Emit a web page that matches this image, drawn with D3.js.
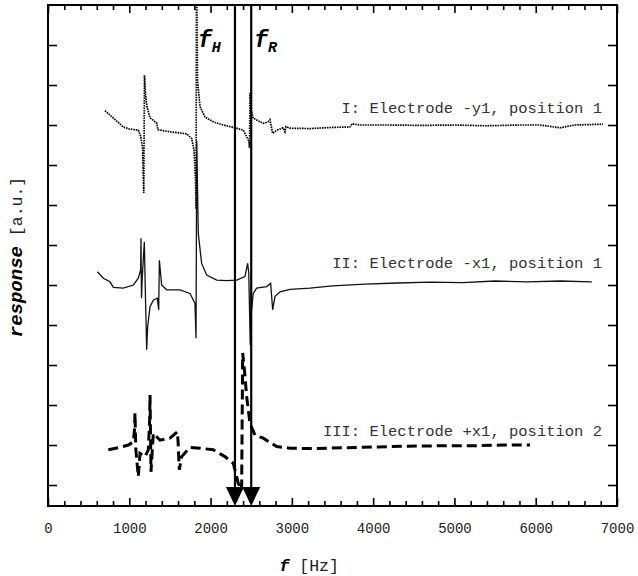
<!DOCTYPE html>
<html>
<head>
<meta charset="utf-8">
<script src="https://cdn.jsdelivr.net/npm/d3@7"></script>
<style>
  body { margin: 0; background: #fff; }
  text { font-family: "Liberation Mono", "DejaVu Sans Mono", monospace; }
</style>
</head>
<body>
<div id="chart"></div>
<script>
// response spectra - three electrodes, frequency in Hz, response in arbitrary units
// curve I dotted, II solid, III dashed; fH / fR marked with arrows

const freqI = [700, 800, 926, 1000, 1111, 1140, 1165, 1178, 1187, 1200, 1218, 1255, 1337, 1353, 1501, 1706, 1768, 1796, 1815, 1821, 1827, 1839, 1870, 1931, 2033, 2157, 2300, 2402, 2444, 2470, 2479, 2485, 2497, 2525, 2648, 2706, 2731, 2764, 2813, 2854, 2891, 2915, 2928, 2977, 3223, 3500, 3715, 3740, 3838, 4200, 4600, 5000, 5400, 5800, 6052, 6298, 6483, 6827];
const respI = [9.36, 9.18, 8.95, 8.9, 8.87, 8.72, 8.4, 7.3, 10.25, 9.75, 9.45, 9.18, 9.05, 8.88, 8.83, 8.78, 8.66, 8.38, 7.6, 6.9, 13, 10.1, 9.46, 9.2, 9.08, 9.0, 8.93, 8.87, 8.71, 8.6, 8.43, 9.8, 9.38, 9.17, 9.04, 9.08, 9.13, 8.79, 8.87, 8.9, 8.93, 8.83, 8.96, 8.92, 8.91, 8.94, 8.95, 9.03, 9.0, 9.0, 8.99, 9.0, 8.98, 9.0, 9.0, 8.93, 9.0, 9.02];

const freqII = [607, 681, 763, 804, 926, 1050, 1111, 1140, 1144, 1150, 1160, 1185, 1200, 1214, 1226, 1255, 1296, 1345, 1362, 1370, 1398, 1460, 1624, 1747, 1808, 1821, 1830, 1849, 1890, 1952, 2075, 2198, 2321, 2423, 2456, 2470, 2488, 2500, 2525, 2567, 2690, 2739, 2764, 2792, 2854, 2977, 3223, 3500, 3900, 4300, 4700, 5100, 5500, 5900, 6300, 6690];
const respII = [5.33, 5.17, 5.08, 4.94, 4.92, 5.0, 5.17, 5.38, 6.17, 4.67, 5.2, 6.08, 4.62, 3.38, 3.96, 4.46, 4.62, 4.67, 4.38, 5.62, 5.0, 4.88, 4.88, 4.79, 4.54, 3.67, 8.6, 6.29, 5.54, 5.25, 5.12, 5.11, 5.12, 5.21, 5.54, 5.3, 3.5, 4.3, 4.79, 4.92, 4.96, 5.04, 4.38, 4.71, 4.83, 4.89, 4.92, 4.98, 5.02, 5.05, 5.07, 5.06, 5.1, 5.08, 5.1, 5.08];

const freqIII = [742, 886, 988, 1050, 1065, 1070, 1080, 1111, 1132, 1193, 1234, 1250, 1255, 1267, 1296, 1378, 1501, 1591, 1600, 1615, 1645, 1747, 1870, 2033, 2177, 2280, 2341, 2382, 2395, 2420, 2444, 2485, 2546, 2648, 2813, 2977, 3223, 3600, 4000, 4400, 4800, 5200, 5600, 5930];
const respIII = [0.88, 0.94, 1.0, 1.08, 1.4, 1.8, 0.9, 0.21, 0.79, 0.71, 0.88, 1.6, 2.25, 0.33, 1.29, 1.12, 1.17, 1.33, 1.1, 0.38, 0.71, 0.94, 0.92, 0.88, 0.71, 0.54, 0.04, -0.12, 3.3, 2.8, 2.21, 1.54, 1.25, 1.17, 0.96, 0.92, 0.91, 0.93, 0.95, 0.97, 0.98, 0.98, 1.0, 1.0];

const curveLabels = ["I: Electrode -y1, position 1", "II: Electrode -x1, position 1", "III: Electrode +x1, position 2"];
const labelLevels = [9.3, 5.42, 1.22];

const markFreqs = [2300, 2500];
const markNames = ["H", "R"];

const xMajorTicks = [0, 1000, 2000, 3000, 4000, 5000, 6000, 7000];
const xMinorTicks = d3.range(200, 7000, 200).filter(v => v % 1000 !== 0);
const yTicks = [0, 1, 2, 3, 4, 5, 6, 7, 8, 9, 10, 11];

const svgWidth = 638;
const svgHeight = 576;
const margin = { top: 5, right: 21, bottom: 70, left: 48 };
const width = svgWidth - margin.left - margin.right;
const height = svgHeight - margin.top - margin.bottom;

const svg = d3.select("#chart")
    .append("svg")
    .attr("width", svgWidth)
    .attr("height", svgHeight);

const chart = svg.append("g")
    .attr("transform", `translate(${margin.left},${margin.top})`);

const scaleX = d3.scaleLinear().domain([0, 7000]).range([0, width]);
const scaleY = d3.scaleLinear().domain([-0.525, 12]).range([height, 0]);

chart.append("clipPath")
    .attr("id", "plotclip")
    .append("rect")
    .attr("width", width)
    .attr("height", height);

// axes: ticks point inward, labels only on the bottom
function tickAxis(axis, size) {
    return g => {
        g.call(axis.tickSize(size).tickSizeOuter(0));
        g.select(".domain").remove();
        g.selectAll("line").attr("stroke", "#000").attr("stroke-width", 1.6);
    };
}

const bottom = chart.append("g").attr("transform", `translate(0,${height})`);
bottom.call(tickAxis(d3.axisBottom(scaleX).tickValues(xMajorTicks).tickFormat(d3.format("d")).tickPadding(17), -8));
bottom.selectAll("text")
    .attr("font-family", "Liberation Mono, monospace")
    .attr("font-size", "14px")
    .attr("fill", "#222");
chart.append("g").attr("transform", `translate(0,${height})`)
    .call(tickAxis(d3.axisBottom(scaleX).tickValues(xMinorTicks).tickFormat(""), -5));

chart.append("g")
    .call(tickAxis(d3.axisTop(scaleX).tickValues(xMajorTicks).tickFormat(""), -8));
chart.append("g")
    .call(tickAxis(d3.axisTop(scaleX).tickValues(xMinorTicks).tickFormat(""), -5));

chart.append("g")
    .call(tickAxis(d3.axisLeft(scaleY).tickValues(yTicks).tickFormat(""), -9));
chart.append("g").attr("transform", `translate(${width},0)`)
    .call(tickAxis(d3.axisRight(scaleY).tickValues(yTicks).tickFormat(""), -9));

chart.append("rect")
    .attr("width", width)
    .attr("height", height)
    .attr("fill", "none")
    .attr("stroke", "#000")
    .attr("stroke-width", 2);

// curves
const line = d3.line()
    .x(d => scaleX(d[0]))
    .y(d => scaleY(d[1]));

const plot = chart.append("g").attr("clip-path", "url(#plotclip)");

plot.append("path")
    .datum(d3.zip(freqI, respI))
    .attr("d", line)
    .attr("fill", "none")
    .attr("stroke", "#000")
    .attr("stroke-width", 1.7)
    .attr("stroke-dasharray", "1.6 0.9");

plot.append("path")
    .datum(d3.zip(freqII, respII))
    .attr("d", line)
    .attr("fill", "none")
    .attr("stroke", "#111")
    .attr("stroke-width", 1.3);

plot.append("path")
    .datum(d3.zip(freqIII, respIII))
    .attr("d", line)
    .attr("fill", "none")
    .attr("stroke", "#000")
    .attr("stroke-width", 3)
    .attr("stroke-dasharray", "10 5");

// fH and fR markers
markFreqs.forEach(function(f, i) {
    const px = scaleX(f);
    chart.append("line")
        .attr("x1", px).attr("x2", px)
        .attr("y1", 0).attr("y2", height - 16)
        .attr("stroke", "#000")
        .attr("stroke-width", 2.2);
    chart.append("path")
        .attr("d", `M${px - 9},${height - 19}L${px + 9},${height - 19}L${px},${height}Z`)
        .attr("fill", "#000");
    const t = chart.append("text")
        .attr("x", px + (i === 0 ? -37 : 3))
        .attr("y", 42)
        .attr("font-weight", "bold")
        .attr("font-style", "italic")
        .attr("font-size", "23px");
    t.append("tspan").text("f");
    t.append("tspan")
        .attr("dy", 5)
        .attr("font-size", "15px")
        .text(markNames[i]);
});

// curve labels
curveLabels.forEach(function(s, i) {
    chart.append("text")
        .attr("x", width - 15)
        .attr("y", scaleY(labelLevels[i]))
        .attr("text-anchor", "end")
        .attr("font-size", "15.5px")
        .attr("fill", "#333")
        .text(s);
});

// axis titles
const xt = svg.append("text")
    .attr("x", 309)
    .attr("y", 571)
    .attr("text-anchor", "middle");
xt.append("tspan")
    .attr("font-weight", "bold")
    .attr("font-style", "italic")
    .attr("font-size", "17px")
    .text("f");
xt.append("tspan")
    .attr("font-size", "16.5px")
    .attr("fill", "#222")
    .text("  [Hz]");

const yt = svg.append("text")
    .attr("transform", "translate(22,257) rotate(-90)")
    .attr("text-anchor", "middle");
yt.append("tspan")
    .attr("font-weight", "bold")
    .attr("font-style", "italic")
    .attr("font-size", "19px")
    .text("response");
yt.append("tspan")
    .attr("font-size", "16.5px")
    .attr("fill", "#222")
    .text(" [a.u.]");
</script>
</body>
</html>
